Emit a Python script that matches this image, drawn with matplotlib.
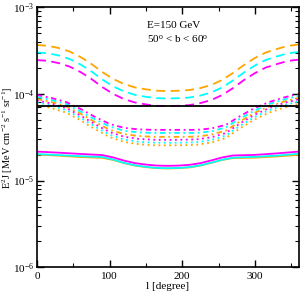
import numpy as np
import matplotlib
matplotlib.use('Agg')
import matplotlib.pyplot as plt
from matplotlib.ticker import MultipleLocator, LogLocator, NullFormatter

plt.rcParams['font.family'] = 'Liberation Serif'
plt.rcParams['mathtext.fontset'] = 'custom'
plt.rcParams['mathtext.rm'] = 'Liberation Serif'
plt.rcParams['mathtext.it'] = 'Liberation Serif:italic'

# longitude grids
l_dash = list(range(0, 361, 15))
l_dot = list(range(0, 361, 20))
l_solid = [0, 30, 60, 90, 105, 120, 135, 150, 165, 180, 195, 210, 225, 240, 255, 270, 300, 330, 360]

# dashed curves (top group)
orange_dash = [3.67e-4, 3.60e-4, 3.39e-4, 3.09e-4, 2.67e-4, 2.22e-4, 1.79e-4, 1.49e-4, 1.30e-4,
               1.19e-4, 1.13e-4, 1.09e-4, 1.08e-4, 1.09e-4, 1.11e-4, 1.17e-4, 1.27e-4, 1.45e-4,
               1.75e-4, 2.16e-4, 2.60e-4, 3.01e-4, 3.30e-4, 3.58e-4, 3.72e-4]
cyan_dash = [3.01e-4, 2.95e-4, 2.78e-4, 2.53e-4, 2.19e-4, 1.82e-4, 1.47e-4, 1.22e-4, 1.07e-4,
             9.76e-5, 9.27e-5, 8.94e-5, 8.86e-5, 8.94e-5, 9.10e-5, 9.59e-5, 1.04e-4, 1.19e-4,
             1.435e-4, 1.77e-4, 2.13e-4, 2.47e-4, 2.71e-4, 2.94e-4, 3.05e-4]
magenta_dash = [2.46e-4, 2.41e-4, 2.27e-4, 2.07e-4, 1.79e-4, 1.49e-4, 1.20e-4, 1.00e-4, 8.71e-5,
                7.97e-5, 7.57e-5, 7.30e-5, 7.24e-5, 7.30e-5, 7.44e-5, 7.84e-5, 8.51e-5, 9.72e-5,
                1.17e-4, 1.45e-4, 1.74e-4, 2.02e-4, 2.21e-4, 2.40e-4, 2.49e-4]

# dash-dot curves
magenta_dd = [9.74e-5, 8.99e-5, 8.09e-5, 6.72e-5, 5.43e-5, 4.51e-5, 4.06e-5, 3.90e-5, 3.85e-5, 3.85e-5,
              3.85e-5, 3.85e-5, 4.00e-5, 4.39e-5, 5.58e-5, 6.90e-5, 8.09e-5, 9.11e-5, 1.00e-4]
cyan_dd = [9.24e-5, 8.53e-5, 7.67e-5, 6.28e-5, 5.08e-5, 4.22e-5, 3.75e-5, 3.60e-5, 3.55e-5, 3.55e-5,
           3.55e-5, 3.55e-5, 3.70e-5, 4.11e-5, 5.22e-5, 6.45e-5, 7.67e-5, 8.64e-5, 9.48e-5]
orange_dd = [8.76e-5, 8.07e-5, 7.20e-5, 5.92e-5, 4.73e-5, 3.87e-5, 3.44e-5, 3.27e-5, 3.20e-5, 3.20e-5,
             3.20e-5, 3.22e-5, 3.39e-5, 3.77e-5, 4.85e-5, 6.08e-5, 7.20e-5, 8.17e-5, 8.99e-5]

# dotted curves
magenta_dot = [8.42e-5, 7.74e-5, 6.89e-5, 5.63e-5, 4.47e-5, 3.63e-5, 3.21e-5, 3.03e-5, 2.96e-5, 2.95e-5,
               2.96e-5, 2.99e-5, 3.16e-5, 3.54e-5, 4.59e-5, 5.78e-5, 6.89e-5, 7.85e-5, 8.64e-5]
cyan_dot = [7.98e-5, 7.34e-5, 6.52e-5, 5.31e-5, 4.19e-5, 3.39e-5, 2.98e-5, 2.81e-5, 2.74e-5, 2.73e-5,
            2.74e-5, 2.77e-5, 2.94e-5, 3.31e-5, 4.30e-5, 5.45e-5, 6.52e-5, 7.43e-5, 8.20e-5]
orange_dot = [7.47e-5, 6.87e-5, 6.10e-5, 4.97e-5, 3.92e-5, 3.18e-5, 2.79e-5, 2.63e-5, 2.56e-5, 2.55e-5,
              2.56e-5, 2.59e-5, 2.75e-5, 3.10e-5, 4.03e-5, 5.10e-5, 6.10e-5, 6.96e-5, 7.67e-5]

# solid curves (bottom group)
magenta_solid = [2.16e-5, 2.10e-5, 2.03e-5, 1.97e-5, 1.85e-5, 1.70e-5, 1.59e-5, 1.53e-5, 1.49e-5, 1.48e-5,
                 1.49e-5, 1.52e-5, 1.59e-5, 1.71e-5, 1.85e-5, 1.95e-5, 1.98e-5, 2.06e-5, 2.16e-5]
cyan_solid = [2.02e-5, 1.97e-5, 1.91e-5, 1.87e-5, 1.75e-5, 1.60e-5, 1.50e-5, 1.44e-5, 1.40e-5, 1.39e-5,
              1.40e-5, 1.43e-5, 1.50e-5, 1.61e-5, 1.74e-5, 1.84e-5, 1.88e-5, 1.94e-5, 2.04e-5]
orange_solid = [2.00e-5, 1.94e-5, 1.87e-5, 1.83e-5, 1.73e-5, 1.59e-5, 1.49e-5, 1.43e-5, 1.39e-5, 1.38e-5,
                1.39e-5, 1.42e-5, 1.49e-5, 1.60e-5, 1.73e-5, 1.82e-5, 1.84e-5, 1.90e-5, 1.98e-5]

# isotropic background level
iso_level = 7.3e-5

ORANGE = '#FFA500'
CYAN = '#00FFFF'
MAGENTA = '#FF00FF'

fig = plt.figure(figsize=(3.0, 2.93), dpi=100)
ax = fig.add_axes([0.123, 0.088, 0.872, 0.887])

lw = 1.3
ax.plot(l_dash, orange_dash, color=ORANGE, ls=(0, (5, 3)), lw=lw)
ax.plot(l_dash, cyan_dash, color=CYAN, ls=(0, (5, 3)), lw=lw)
ax.plot(l_dash, magenta_dash, color=MAGENTA, ls=(0, (5, 3)), lw=lw)

ax.plot(l_dot, orange_dd, color=ORANGE, ls=(0, (3, 2, 1, 2)), lw=lw)
ax.plot(l_dot, cyan_dd, color=CYAN, ls=(0, (3, 2, 1, 2)), lw=lw)
ax.plot(l_dot, magenta_dd, color=MAGENTA, ls=(0, (3, 2, 1, 2)), lw=lw)

ax.plot(l_dot, orange_dot, color=ORANGE, ls=(0, (1, 2)), lw=lw)
ax.plot(l_dot, cyan_dot, color=CYAN, ls=(0, (1, 2)), lw=lw)
ax.plot(l_dot, magenta_dot, color=MAGENTA, ls=(0, (1, 2)), lw=lw)

ax.plot(l_solid, orange_solid, color=ORANGE, lw=lw)
ax.plot(l_solid, cyan_solid, color=CYAN, lw=lw)
ax.plot(l_solid, magenta_solid, color=MAGENTA, lw=lw)

ax.axhline(iso_level, color='black', lw=1.3)

ax.set_yscale('log')
ax.set_xlim(0, 360)
ax.set_ylim(1e-6, 1e-3)

ax.xaxis.set_major_locator(MultipleLocator(100))
ax.xaxis.set_minor_locator(MultipleLocator(50))
ax.yaxis.set_major_locator(LogLocator(base=10, numticks=10))
ax.yaxis.set_minor_locator(LogLocator(base=10, subs=np.arange(2, 10), numticks=10))
ax.yaxis.set_minor_formatter(NullFormatter())

ax.tick_params(which='both', direction='in', top=True, right=True, labelsize=8)
ax.tick_params(which='major', length=5, width=1)
ax.tick_params(which='minor', length=3, width=0.8)
ax.tick_params(axis='y', pad=2)
for sp in ax.spines.values():
    sp.set_linewidth(1.2)

ax.set_xlabel('l [degree]', fontsize=8, labelpad=1)
ax.set_ylabel(r'E$^2$J [MeV cm$^{-2}$ s$^{-1}$ sr$^{-1}$]', fontsize=7.5)
ax.yaxis.set_label_coords(-0.085, 0.5)

ax.text(0.42, 0.93, 'E=150 GeV', transform=ax.transAxes, fontsize=8, va='center')
ax.text(0.42, 0.88, r'50$^{\rm o}$ < b < 60$^{\rm o}$', transform=ax.transAxes, fontsize=8, va='center')

fig.savefig('out.png', dpi=100)
